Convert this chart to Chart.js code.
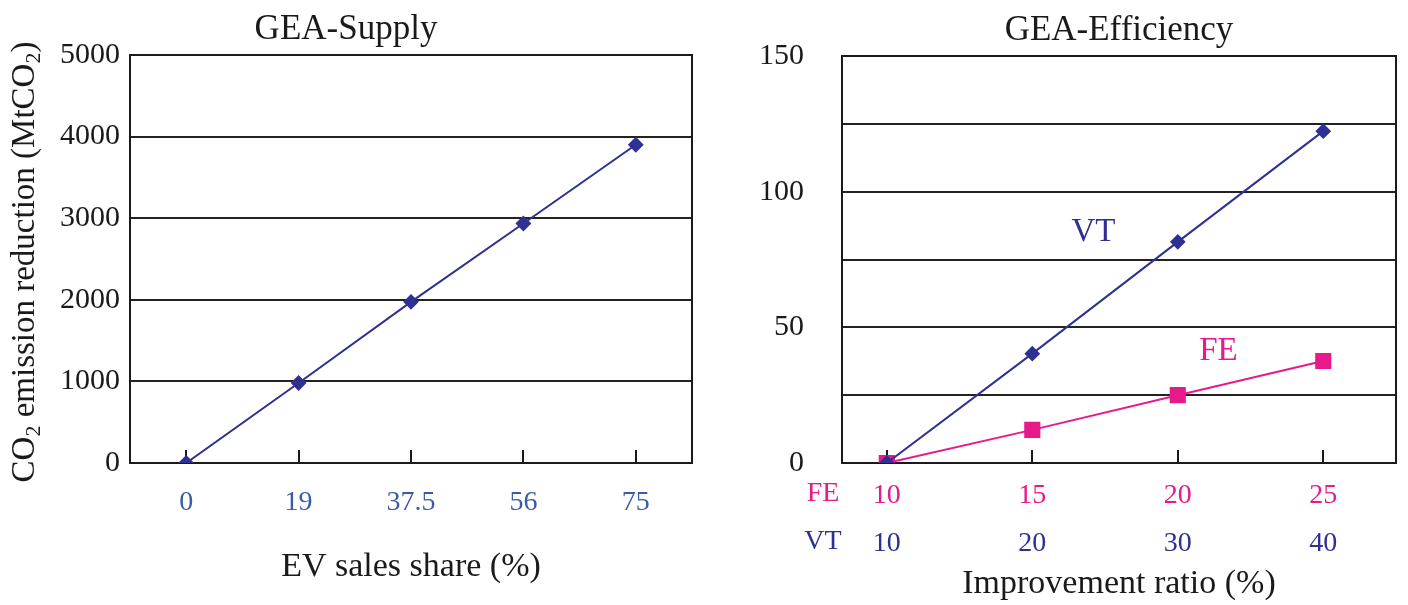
<!DOCTYPE html>
<html lang="en">
<head>
    <meta charset="UTF-8">
    <title>GEA-Supply / GEA-Efficiency</title>
    <script src="https://cdn.jsdelivr.net/npm/chart.js"></script>
    <style>
        body {
            margin: 0;
            background-color: #fff;
        }
        #wrap {
            position: relative;
            width: 1408px;
            height: 605px;
        }
        canvas {
            position: absolute;
            top: 0;
        }
        #supply { left: 0; }
        #efficiency { left: 704px; }
    </style>
</head>
<body>
    <div id="wrap">
        <canvas id="supply" width="778" height="605"></canvas>
        <canvas id="efficiency" width="704" height="605"></canvas>
    </div>
    <script>
    // GEA-Supply
    const evShare = ['0', '19', '37.5', '56', '75'];
    const supplyReduction = [0, 980, 1975, 2935, 3900];

    // GEA-Efficiency (x positions follow the FE row)
    const feRatio = [10, 15, 20, 25];
    const vtRatio = [10, 20, 30, 40];
    const vtReduction = [0, 40.3, 81.5, 122.3];
    const feReduction = [0, 12.2, 25, 37.6];

    const serif = "'Liberation Serif', 'Times New Roman', serif";
    const navy = '#2e3192';
    const pink = '#e8198b';
    const lightBlue = '#3b5ba9';
    const ink = '#1a1a1a';

    Chart.defaults.font.family = serif;
    Chart.defaults.color = ink;

    // frame around the plot + short inward ticks on the bottom axis
    const framePlugin = {
        id: 'frame',
        beforeDatasetsDraw(chart) {
            const {ctx, chartArea: a} = chart;
            const xs = chart.scales.x;
            ctx.save();
            ctx.strokeStyle = ink;
            ctx.lineWidth = 2;
            ctx.strokeRect(a.left, a.top, a.right - a.left, a.bottom - a.top);
            xs.ticks.forEach((t, i) => {
                const px = Math.round(xs.getPixelForTick(i));
                ctx.beginPath();
                ctx.moveTo(px, a.bottom);
                ctx.lineTo(px, a.bottom - 13);
                ctx.stroke();
            });
            ctx.restore();
        }
    };

    // rotated y title with real subscripts
    const yTitlePlugin = {
        id: 'yTitle',
        afterDraw(chart, args, opts) {
            if (!opts.parts) return;
            const ctx = chart.ctx;
            const big = opts.size + 'px ' + serif;
            const small = Math.round(opts.size * 0.68) + 'px ' + serif;
            ctx.save();
            ctx.translate(opts.x, opts.y);
            ctx.rotate(-Math.PI / 2);
            ctx.fillStyle = ink;
            ctx.textBaseline = 'middle';
            let total = 0;
            opts.parts.forEach(p => {
                ctx.font = p.sub ? small : big;
                total += ctx.measureText(p.text).width;
            });
            let x = -total / 2;
            opts.parts.forEach(p => {
                ctx.font = p.sub ? small : big;
                ctx.fillText(p.text, x, p.sub ? opts.size * 0.28 : 0);
                x += ctx.measureText(p.text).width;
            });
            ctx.restore();
        }
    };

    // in-plot series names and the FE / VT row names under the plot
    const notesPlugin = {
        id: 'notes',
        afterDraw(chart, args, opts) {
            if (!opts.inPlot) return;
            const ctx = chart.ctx;
            ctx.save();
            ctx.textAlign = 'center';
            ctx.textBaseline = 'middle';
            opts.inPlot.forEach(n => {
                ctx.font = n.size + 'px ' + serif;
                ctx.fillStyle = n.color;
                ctx.fillText(n.text, chart.scales.x.getPixelForValue(n.x), chart.scales.y.getPixelForValue(n.y));
            });
            opts.rows.forEach(r => {
                const s = chart.scales[r.axis];
                const f = s.options.ticks.font;
                ctx.font = f.size + 'px ' + serif;
                ctx.fillStyle = r.color;
                ctx.fillText(r.text, chart.chartArea.left - 19, s.top + s.options.ticks.padding + f.size * 0.8);
            });
            ctx.restore();
        }
    };

    new Chart(document.getElementById('supply'), {
        type: 'line',
        data: {
            labels: evShare,
            datasets: [{
                data: supplyReduction,
                borderColor: navy,
                backgroundColor: navy,
                borderWidth: 2,
                pointStyle: 'rectRot',
                pointRadius: 6.5,
                tension: 0
            }]
        },
        options: {
            responsive: false,
            animation: false,
            layout: { padding: { left: 0, right: 86, top: 0, bottom: 0 } },
            plugins: {
                legend: { display: false },
                tooltip: { enabled: false },
                title: {
                    display: true,
                    text: 'GEA-Supply',
                    color: ink,
                    font: { size: 35, weight: 'normal', lineHeight: 1 },
                    padding: { top: 12, bottom: 8 }
                },
                yTitle: {
                    x: 25, y: 262, size: 33,
                    parts: [
                        { text: 'CO' }, { text: '2', sub: true },
                        { text: ' emission reduction (MtCO' }, { text: '2', sub: true },
                        { text: ')' }
                    ]
                }
            },
            scales: {
                x: {
                    type: 'category',
                    offset: true,
                    grid: { display: false },
                    border: { display: false },
                    ticks: { color: lightBlue, font: { size: 28 }, padding: 15 },
                    title: {
                        display: true,
                        text: 'EV sales share (%)',
                        color: ink,
                        font: { size: 34 },
                        padding: { top: 0, bottom: 18 }
                    },
                    afterFit: s => { s.height = 142; }
                },
                y: {
                    min: 0,
                    max: 5000,
                    grid: { color: '#222', lineWidth: 2, drawTicks: false },
                    border: { display: false },
                    ticks: { stepSize: 1000, color: ink, font: { size: 30 }, padding: 10, callback: v => String(v) },
                    afterFit: s => { s.width = 130; }
                }
            }
        },
        plugins: [framePlugin, yTitlePlugin]
    });

    new Chart(document.getElementById('efficiency'), {
        type: 'line',
        data: {
            datasets: [{
                label: 'VT',
                data: feRatio.map((x, i) => ({ x: x, y: vtReduction[i] })),
                borderColor: navy,
                backgroundColor: navy,
                borderWidth: 2,
                pointStyle: 'rectRot',
                pointRadius: 6.5,
                tension: 0
            }, {
                label: 'FE',
                data: feRatio.map((x, i) => ({ x: x, y: feReduction[i] })),
                borderColor: pink,
                backgroundColor: pink,
                borderWidth: 2,
                pointStyle: 'rect',
                pointRadius: 10,
                tension: 0
            }]
        },
        options: {
            responsive: false,
            animation: false,
            layout: { padding: { left: 0, right: 10, top: 0, bottom: 0 } },
            plugins: {
                legend: { display: false },
                tooltip: { enabled: false },
                title: {
                    display: true,
                    fullSize: false,
                    text: 'GEA-Efficiency',
                    color: ink,
                    font: { size: 35, weight: 'normal', lineHeight: 1 },
                    padding: { top: 12, bottom: 8 }
                },
                notes: {
                    inPlot: [
                        { text: 'VT', color: navy, size: 33, x: 17.1, y: 85 },
                        { text: 'FE', color: pink, size: 33, x: 21.4, y: 41 }
                    ],
                    rows: [
                        { text: 'FE', color: pink, axis: 'x' },
                        { text: 'VT', color: navy, axis: 'x2' }
                    ]
                }
            },
            scales: {
                x: {
                    type: 'linear',
                    position: 'bottom',
                    weight: 0,
                    min: 8.46,
                    max: 27.5,
                    grid: { display: false },
                    border: { display: false },
                    ticks: { color: pink, font: { size: 28 }, padding: 8 },
                    afterBuildTicks: s => { s.ticks = feRatio.map(v => ({ value: v })); },
                    afterFit: s => { s.height = 48; }
                },
                x2: {
                    type: 'linear',
                    position: 'bottom',
                    weight: 1,
                    min: 6.92,
                    max: 45,
                    grid: { display: false },
                    border: { display: false },
                    ticks: { color: navy, font: { size: 28 }, padding: 8 },
                    afterBuildTicks: s => { s.ticks = vtRatio.map(v => ({ value: v })); },
                    title: {
                        display: true,
                        text: 'Improvement ratio (%)',
                        color: ink,
                        font: { size: 34 },
                        padding: { top: 0, bottom: 1 }
                    },
                    afterFit: s => { s.height = 94; }
                },
                y: {
                    min: 0,
                    max: 150,
                    grid: { color: '#222', lineWidth: 2, drawTicks: false },
                    border: { display: false },
                    ticks: {
                        stepSize: 25,
                        color: ink,
                        font: { size: 30 },
                        padding: 38,
                        callback: v => (v % 50 === 0 ? String(v) : '')
                    },
                    afterFit: s => { s.width = 138; }
                }
            }
        },
        plugins: [framePlugin, notesPlugin]
    });
    </script>
</body>
</html>
